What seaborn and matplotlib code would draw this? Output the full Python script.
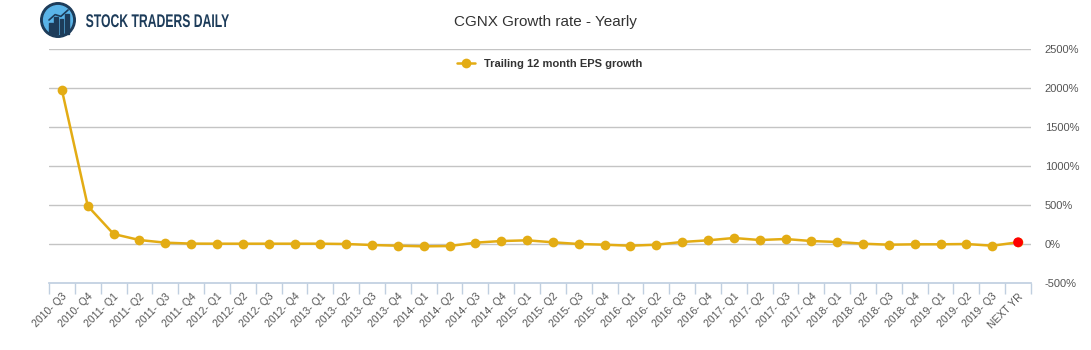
import numpy as np
import pandas as pd
import matplotlib.pyplot as plt
import matplotlib.patches as mpatches
from matplotlib.textpath import TextPath
from matplotlib.font_manager import FontProperties
from matplotlib.transforms import Affine2D
import seaborn as sns

# quarters shown on the x axis
periods = ["2010- Q3", "2010- Q4"]
for yr in range(2011, 2019):
    periods += [f"{yr}- Q{q}" for q in range(1, 5)]
periods += ["2019- Q1", "2019- Q2", "2019- Q3", "NEXT YR"]

# trailing 12 month EPS growth, percent
eps_growth = [1974, 487, 128, 51, 17, 5, 4, 4, 4, 4, 4, 0, -13, -22, -30, -26,
              17, 38, 47, 22, 0, -9, -22, -9, 26, 47, 77, 51, 64, 38, 26, 4,
              -9, -4, -4, 0, -22, 22]

y_ticks = [-500, 0, 500, 1000, 1500, 2000, 2500]

df = pd.DataFrame({"period": periods, "growth": eps_growth})

sns.set_theme(style="white")
plt.rcParams['font.family'] = ['Liberation Sans', 'DejaVu Sans']

gold = "#e3ac14"
W, H = 1091, 350
fig = plt.figure(figsize=(W / 100, H / 100), dpi=100)
ax = fig.add_axes([49 / W, 67 / H, 982 / W, 234 / H])

sns.lineplot(data=df, x="period", y="growth", ax=ax, sort=False, color=gold,
             linewidth=1.8, marker="o", markersize=7, markeredgewidth=0,
             label="Trailing 12 month EPS growth")
sns.scatterplot(data=df.tail(1), x="period", y="growth", ax=ax, color="#ff0000",
                s=50, edgecolor="none", zorder=5, legend=False)

ax.set_xlim(-0.5, len(periods) - 0.5)
ax.set_ylim(-500, 2500)
ax.set_yticks(y_ticks)
ax.set_yticklabels([f"{v}%" for v in y_ticks])
ax.yaxis.tick_right()
ax.tick_params(axis="y", length=0, pad=10, labelsize=8, labelcolor="#555555")
for v in y_ticks[1:]:
    ax.axhline(v, color="#c4c4c4", linewidth=1, zorder=0)

ax.set_xticks(range(len(periods)))
ax.set_xticklabels(periods, rotation=45, ha="right", rotation_mode="anchor")
ax.set_xticks(np.arange(-0.5, len(periods), 1), minor=True)
ax.tick_params(axis="x", which="major", length=0, pad=6, labelsize=7.5,
               labelcolor="#555555")
ax.tick_params(axis="x", which="minor", length=8, color="#c0cfe0", width=1,
               bottom=True)
ax.set_xlabel("")
ax.set_ylabel("")
for side in ["top", "right", "left"]:
    ax.spines[side].set_visible(False)
ax.spines["bottom"].set_color("#c0cfe0")

leg = ax.legend(loc="center", bbox_to_anchor=(0.51, 1 - 15 / 234), frameon=False,
                fontsize=8, handlelength=1.6)
for t in leg.get_texts():
    t.set_fontweight("bold")
    t.set_color("#333333")

fig.text(0.5, 1 - 22 / H, "CGNX Growth rate - Yearly", ha="center",
         va="center", fontsize=11, color="#333333")

# logo
logo = fig.add_axes([40 / W, 1 - 38 / H, 36 / W, 36 / H])
logo.set_xlim(0, 1)
logo.set_ylim(0, 1)
logo.axis("off")
logo.add_patch(mpatches.Circle((0.5, 0.5), 0.48, color="#1d3c5a"))
logo.add_patch(mpatches.Circle((0.5, 0.5), 0.40, color="#5ab4e8"))
for bx, bh in zip([0.25, 0.4, 0.55, 0.7], [0.3, 0.45, 0.4, 0.55]):
    logo.add_patch(mpatches.Rectangle((bx, 0.12), 0.1, bh, color="#1d3c5a"))
logo.plot([0.25, 0.42, 0.58, 0.78], [0.5, 0.65, 0.6, 0.78], color="#1d3c5a", lw=1.2)

# condensed logo text, drawn as a path squeezed horizontally
tp = TextPath((0, 0), "STOCK TRADERS DAILY", size=14,
              prop=FontProperties(family="Liberation Sans", weight="bold"))
ext = tp.get_extents()
sx = 143 / ext.width
sy = 13 / ext.height
trans = Affine2D().scale(sx, sy).translate(86 - ext.x0 * sx, H - 27)
fig.patches.append(mpatches.PathPatch(trans.transform_path(tp), color="#1d3c5a",
                                      lw=0, transform=None, figure=fig))

fig.savefig("out.png", dpi=100)
